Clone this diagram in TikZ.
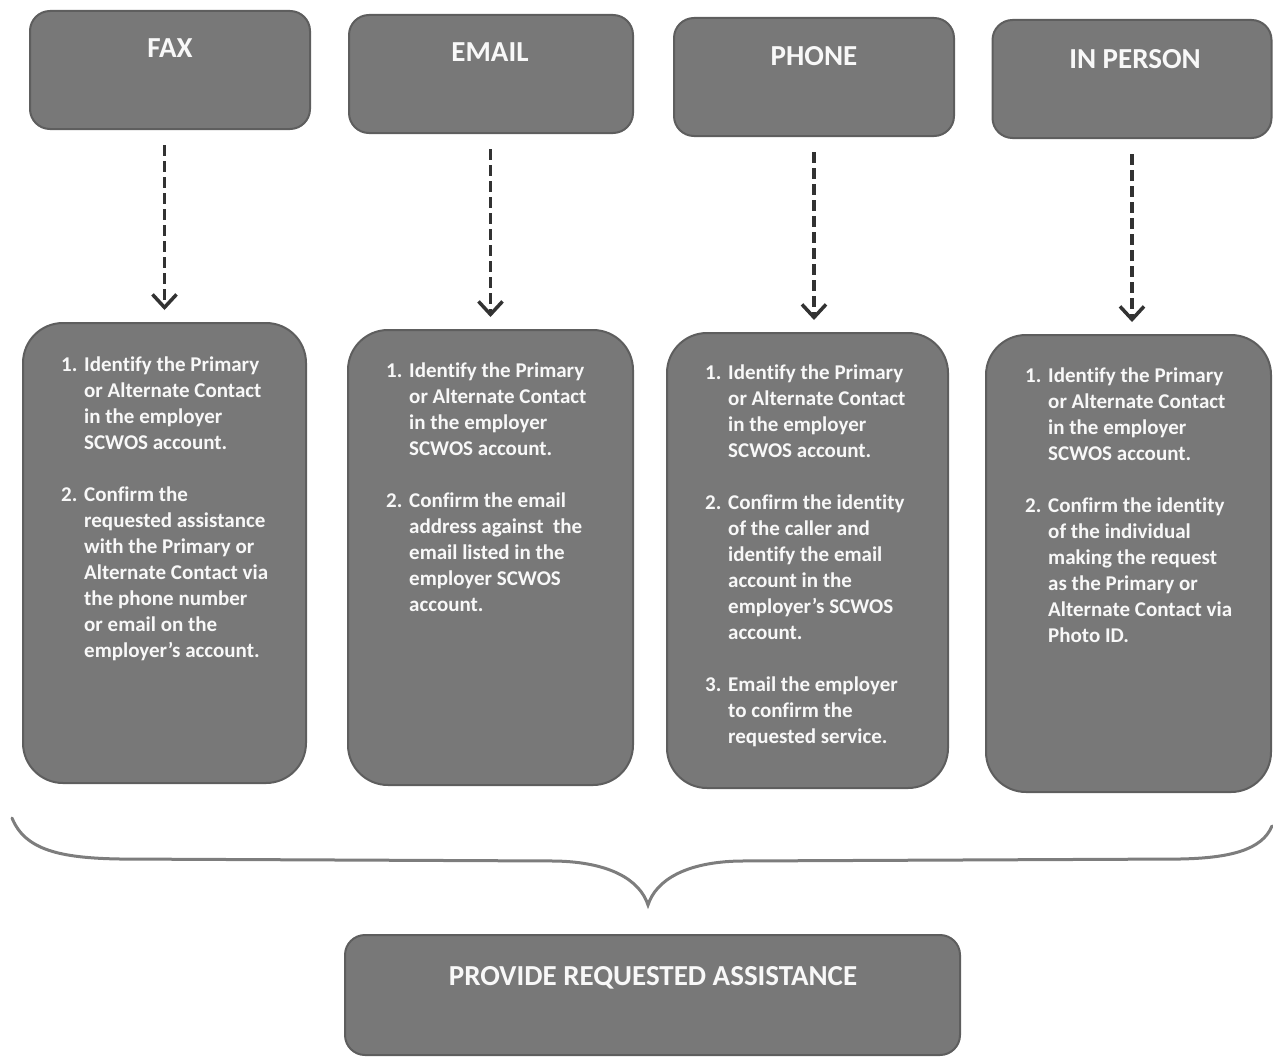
\documentclass[tikz,border=0pt]{standalone}
\usepackage{fontspec}
\setmainfont{Carlito}[Ligatures=NoCommon]
\usetikzlibrary{arrows.meta}
\definecolor{boxfill}{RGB}{120,120,120}
\definecolor{boxline}{RGB}{94,94,94}
\definecolor{boxtext}{RGB}{248,248,248}
\definecolor{arrcol}{RGB}{50,50,50}
\definecolor{bracecol}{RGB}{125,125,125}
\newcommand{\nm}[1]{\makebox[23pt][l]{#1}}
\newcommand{\ind}{\hspace*{23pt}}
\tikzset{
  hdrbox/.style={draw=boxline, fill=boxfill, line width=2pt, rounded corners=20pt, inner sep=0pt},
  stepbox/.style={draw=boxline, fill=boxfill, line width=2pt, rounded corners=40pt, inner sep=0pt},
  hdrtext/.style={text=boxtext, font=\fontsize{29}{35}\selectfont\bfseries, inner sep=0pt, anchor=base},
  steptext/.style={text=boxtext, font=\fontsize{21}{26}\selectfont\bfseries, inner sep=0pt, anchor=base west},
  arr/.style={draw=arrcol, line width=3.5pt, dash pattern=on 11pt off 5pt, -{Straight Barb[length=13pt,width=24pt]}, shorten <=15pt, shorten >=12pt},
  bracestyle/.style={draw=bracecol, line width=3pt, line cap=round}
}
\begin{document}
\begin{tikzpicture}[x=1pt,y=-1pt]
\useasboundingbox (0,0) rectangle (1273,1057);
% headers
\node[hdrbox, minimum width=280pt, minimum height=118pt] (fax) at (170,70) {};
\node[hdrbox, minimum width=284pt, minimum height=118pt] (email) at (491,74) {};
\node[hdrbox, minimum width=280pt, minimum height=118pt] (phone) at (814,77) {};
\node[hdrbox, minimum width=279pt, minimum height=118pt] (inperson) at (1132,79) {};
\node[hdrtext] (faxt) at (170,58) {FAX};
\node[hdrtext] (emailt) at (490,62) {EMAIL};
\node[hdrtext] (phonet) at (814,65) {PHONE};
\node[hdrtext] (inpersont) at (1135,68) {IN PERSON};
% step boxes
\node[stepbox, minimum width=283pt, minimum height=460pt] (faxbox) at (164.5,553) {};
\node[stepbox, minimum width=285pt, minimum height=455pt] (emailbox) at (490.5,557.5) {};
\node[stepbox, minimum width=281pt, minimum height=455pt] (phonebox) at (807.5,560.5) {};
\node[stepbox, minimum width=285pt, minimum height=457pt] (inpersonbox) at (1128.5,563.5) {};
\node[steptext] (faxs) at (61,371) {\parbox[t]{240pt}{%
\nm{1.}Identify the Primary\\
\ind or Alternate Contact\\
\ind in the employer\\
\ind SCWOS account.\\[26pt]
\nm{2.}Confirm the\\
\ind requested assistance\\
\ind with the Primary or\\
\ind Alternate Contact via\\
\ind the phone number\\
\ind or email on the\\
\ind employer’s account.}};
\node[steptext] (emails) at (386,377) {\parbox[t]{240pt}{%
\nm{1.}Identify the Primary\\
\ind or Alternate Contact\\
\ind in the employer\\
\ind SCWOS account.\\[26pt]
\nm{2.}Confirm the email\\
\ind address against\ \ the\\
\ind email listed in the\\
\ind employer SCWOS\\
\ind account.}};
\node[steptext] (phones) at (705,379) {\parbox[t]{240pt}{%
\nm{1.}Identify the Primary\\
\ind or Alternate Contact\\
\ind in the employer\\
\ind SCWOS account.\\[26pt]
\nm{2.}Confirm the identity\\
\ind of the caller and\\
\ind identify the email\\
\ind account in the\\
\ind employer’s SCWOS\\
\ind account.\\[26pt]
\nm{3.}Email the employer\\
\ind to confirm the\\
\ind requested service.}};
\node[steptext] (inpersons) at (1025,382) {\parbox[t]{240pt}{%
\nm{1.}Identify the Primary\\
\ind or Alternate Contact\\
\ind in the employer\\
\ind SCWOS account.\\[26pt]
\nm{2.}Confirm the identity\\
\ind of the individual\\
\ind making the request\\
\ind as the Primary or\\
\ind Alternate Contact via\\
\ind Photo ID.}};
% arrows
\draw[arr] (fax.south -| faxbox.north) -- (faxbox.north);
\draw[arr] (email.south -| emailbox.north) -- (emailbox.north);
\draw[arr] (phone.south) -- (phone.south |- phonebox.north);
\draw[arr] (inperson.south) -- (inperson.south |- inpersonbox.north);
% brace
\coordinate (bl) at (12,818);
\coordinate (btip) at (648,905);
\coordinate (br) at (1272,826);
\draw[bracestyle] (bl) .. controls (25,850) and (60,858) .. (120,859) -- (555,861) .. controls (610,862) and (640,880) .. (btip) .. controls (656,880) and (686,862) .. (740,861) -- (1180,859) .. controls (1230,858) and (1262,850) .. (br);
% bottom
\node[hdrbox, minimum width=615pt, minimum height=120pt] (provide) at (652.5,995) {};
\node[hdrtext] (providet) at (653,985) {PROVIDE REQUESTED ASSISTANCE};
\end{tikzpicture}
\end{document}
